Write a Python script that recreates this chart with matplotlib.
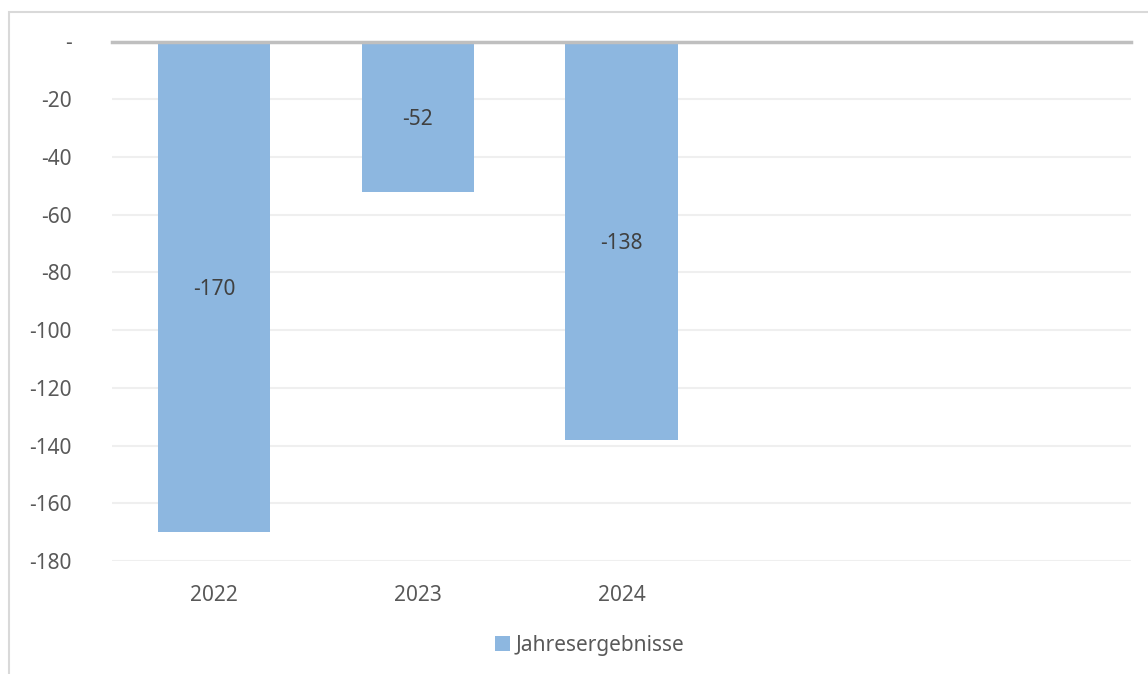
import matplotlib.pyplot as plt
from matplotlib.patches import Rectangle

years = ["2022", "2023", "2024", "", ""]
values = [-170, -52, -138]
yticks = [0, -20, -40, -60, -80, -100, -120, -140, -160, -180]
ytick_labels = ["-" if t == 0 else str(t) for t in yticks]

bar_color = "#8DB7E0"
text_color = "#595959"

plt.rcParams['font.family'] = ['Noto Sans', 'DejaVu Sans']

fig = plt.figure(figsize=(11.48, 6.74), dpi=100)
W, H = 1148, 674
ax = fig.add_axes([112 / W, 1 - 561 / H, (1131 - 112) / W, (561 - 41.5) / H])

# chart border
fig.patches.append(Rectangle((9 / W, -0.1), 1.2, 1 - 12 / H + 0.1, transform=fig.transFigure,
                             fill=False, edgecolor="#D9D9D9", linewidth=1.5))

x = list(range(len(years)))
bars = ax.bar(x[:len(values)], values, width=0.55, color=bar_color, label="Jahresergebnisse", zorder=2)

for b, v in zip(bars, values):
    ax.text(b.get_x() + b.get_width() / 2, v / 2 - 1, str(v), ha="center", va="center",
            fontsize=15, color="#404040", zorder=3)

ax.set_xlim(-0.5, len(years) - 0.5)
ax.set_ylim(-180, 0)
ax.set_yticks(yticks)
ax.set_yticklabels(ytick_labels)
ax.set_xticks(x)
ax.set_xticklabels(years)
ax.tick_params(axis="y", length=0, pad=29, labelsize=15, labelcolor=text_color)
ax.tick_params(axis="x", length=0, pad=17, labelsize=15, labelcolor=text_color)

ax.grid(axis="y", color="#EFEFEF", linewidth=1.5, zorder=0)
ax.axhline(0, color="#BFBFBF", linewidth=2.5, zorder=4, clip_on=False)
for s in ax.spines.values():
    s.set_visible(False)

fig.legend(handles=[bars], labels=["Jahresergebnisse"], loc="center", bbox_to_anchor=(590 / W, 1 - 645 / H),
           frameon=False, fontsize=15, labelcolor=text_color, handlelength=0.7, handleheight=0.7,
           handletextpad=0.3)

fig.savefig("out.png", dpi=100)
